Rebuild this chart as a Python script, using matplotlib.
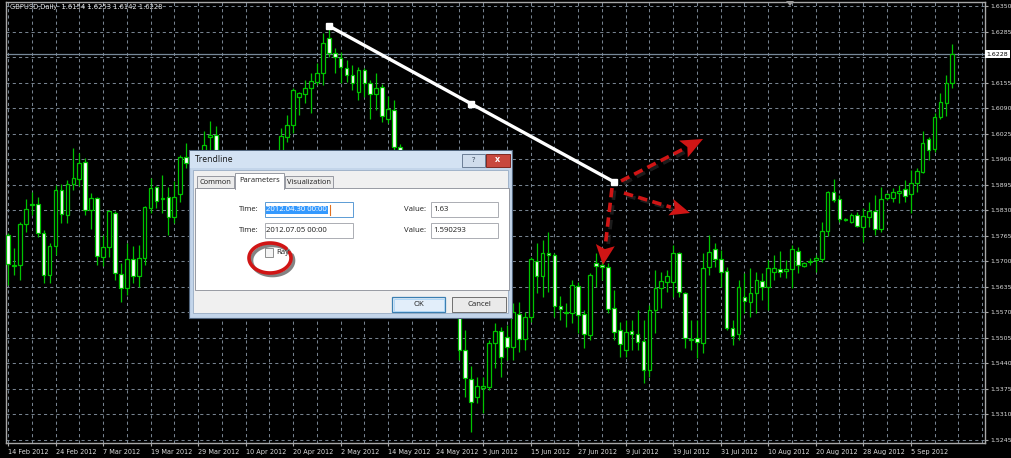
import matplotlib
matplotlib.use("Agg")
import matplotlib.pyplot as plt
from matplotlib.patches import Rectangle, Polygon
import matplotlib.patheffects as pe
import numpy as np

# ---------------------------------------------------------------- data
symbol = "GBPUSD,Daily"

date_labels = ["14 Feb 2012", "24 Feb 2012", "7 Mar 2012", "19 Mar 2012",
               "29 Mar 2012", "10 Apr 2012", "20 Apr 2012", "2 May 2012",
               "14 May 2012", "24 May 2012", "5 Jun 2012", "15 Jun 2012",
               "27 Jun 2012", "9 Jul 2012", "19 Jul 2012", "31 Jul 2012",
               "10 Aug 2012", "20 Aug 2012", "28 Aug 2012", "5 Sep 2012"]

opens = [1.5767, 1.5687, 1.5690, 1.5795, 1.5846, 1.5846, 1.5772, 1.5665, 1.5739, 1.5881,
         1.5818, 1.5897, 1.5909, 1.5953, 1.5830, 1.5861, 1.5710, 1.5736, 1.5823, 1.5667,
         1.5632, 1.5706, 1.5662, 1.5708, 1.5835, 1.5889, 1.5858, 1.5863, 1.5812, 1.5871,
         1.5965, 1.5950, 1.5900, 1.5950, 1.6018, 1.6021, 1.5950, 1.5840, 1.5850, 1.5865,
         1.5860, 1.5890, 1.5920, 1.5945, 1.5870, 1.5920, 1.5960, 1.6016, 1.6047, 1.6118,
         1.6126, 1.6141, 1.6156, 1.6179, 1.6268, 1.6230, 1.6217, 1.6192, 1.6174, 1.6131,
         1.6187, 1.6154, 1.6126, 1.6143, 1.6062, 1.6085, 1.5991, 1.5870, 1.5830, 1.5810,
         1.5825, 1.5760, 1.5710, 1.5660, 1.5680, 1.5690, 1.5650, 1.5474, 1.5400, 1.5354,
         1.5378, 1.5380, 1.5492, 1.5522, 1.5507, 1.5481, 1.5566, 1.5502, 1.5558, 1.5700,
         1.5662, 1.5721, 1.5716, 1.5586, 1.5568, 1.5568, 1.5637, 1.5566, 1.5512, 1.5695,
         1.5690, 1.5685, 1.5581, 1.5525, 1.5474, 1.5522, 1.5515, 1.5497, 1.5423, 1.5576,
         1.5632, 1.5647, 1.5647, 1.5721, 1.5619, 1.5500, 1.5504, 1.5492, 1.5685, 1.5731,
         1.5706, 1.5675, 1.5530, 1.5515, 1.5609, 1.5596, 1.5619, 1.5650, 1.5634, 1.5672,
         1.5680, 1.5675, 1.5680, 1.5726, 1.5688, 1.5698, 1.5703, 1.5706, 1.5777, 1.5876,
         1.5858, 1.5805, 1.5800, 1.5818, 1.5787, 1.5813, 1.5828, 1.5782, 1.5861, 1.5861,
         1.5874, 1.5884, 1.5871, 1.5899, 1.5927, 1.6011, 1.5986, 1.6067, 1.6103, 1.6154]

highs = [1.5772, 1.5734, 1.5800, 1.5858, 1.5876, 1.5863, 1.5779, 1.5746, 1.5894, 1.5897,
         1.5907, 1.5988, 1.5975, 1.5963, 1.5874, 1.5863, 1.5767, 1.5830, 1.5828, 1.5695,
         1.5746, 1.5739, 1.5741, 1.5841, 1.5912, 1.5891, 1.5920, 1.5889, 1.5904, 1.5970,
         1.6001, 1.5975, 1.5965, 1.6031, 1.6057, 1.6044, 1.5965, 1.5870, 1.5880, 1.5890,
         1.5915, 1.5940, 1.5960, 1.5955, 1.5940, 1.5975, 1.6039, 1.6072, 1.6141, 1.6131,
         1.6161, 1.6179, 1.6205, 1.6281, 1.6300, 1.6243, 1.6233, 1.6212, 1.6200, 1.6194,
         1.6192, 1.6161, 1.6179, 1.6151, 1.6121, 1.6110, 1.5998, 1.5900, 1.5890, 1.5850,
         1.5840, 1.5770, 1.5720, 1.5720, 1.5715, 1.5710, 1.5660, 1.5525, 1.5433, 1.5405,
         1.5405, 1.5499, 1.5543, 1.5532, 1.5537, 1.5594, 1.5596, 1.5571, 1.5711, 1.5746,
         1.5754, 1.5774, 1.5721, 1.5611, 1.5594, 1.5652, 1.5647, 1.5576, 1.5670, 1.5721,
         1.5711, 1.5695, 1.5627, 1.5545, 1.5550, 1.5550, 1.5576, 1.5550, 1.5589, 1.5678,
         1.5672, 1.5678, 1.5741, 1.5723, 1.5622, 1.5550, 1.5550, 1.5721, 1.5767, 1.5746,
         1.5728, 1.5685, 1.5550, 1.5652, 1.5670, 1.5683, 1.5672, 1.5670, 1.5703, 1.5716,
         1.5726, 1.5703, 1.5741, 1.5736, 1.5698, 1.5708, 1.5716, 1.5800, 1.5879, 1.5909,
         1.5869, 1.5810, 1.5823, 1.5825, 1.5835, 1.5851, 1.5869, 1.5889, 1.5874, 1.5886,
         1.5894, 1.5907, 1.5932, 1.5937, 1.6031, 1.6016, 1.6077, 1.6128, 1.6174, 1.6253]

lows = [1.5639, 1.5665, 1.5652, 1.5774, 1.5818, 1.5762, 1.5644, 1.5644, 1.5716, 1.5797,
        1.5797, 1.5881, 1.5891, 1.5818, 1.5782, 1.5690, 1.5688, 1.5711, 1.5652, 1.5596,
        1.5614, 1.5644, 1.5634, 1.5690, 1.5823, 1.5835, 1.5823, 1.5767, 1.5797, 1.5851,
        1.5937, 1.5880, 1.5870, 1.5935, 1.5975, 1.5930, 1.5810, 1.5800, 1.5830, 1.5825,
        1.5830, 1.5870, 1.5900, 1.5850, 1.5840, 1.5905, 1.5945, 1.6003, 1.6026, 1.6072,
        1.6103, 1.6077, 1.6149, 1.6149, 1.6220, 1.6179, 1.6154, 1.6156, 1.6136, 1.6110,
        1.6118, 1.6062, 1.6085, 1.6054, 1.6052, 1.5983, 1.5850, 1.5810, 1.5780, 1.5770,
        1.5740, 1.5690, 1.5630, 1.5640, 1.5660, 1.5620, 1.5449, 1.5354, 1.5265, 1.5339,
        1.5313, 1.5372, 1.5428, 1.5405, 1.5449, 1.5449, 1.5469, 1.5474, 1.5545, 1.5619,
        1.5609, 1.5622, 1.5558, 1.5550, 1.5532, 1.5543, 1.5517, 1.5479, 1.5499, 1.5634,
        1.5652, 1.5568, 1.5499, 1.5456, 1.5456, 1.5474, 1.5474, 1.5390, 1.5405, 1.5517,
        1.5581, 1.5622, 1.5609, 1.5609, 1.5479, 1.5474, 1.5454, 1.5466, 1.5665, 1.5685,
        1.5634, 1.5525, 1.5487, 1.5499, 1.5568, 1.5558, 1.5568, 1.5601, 1.5576, 1.5652,
        1.5660, 1.5657, 1.5632, 1.5670, 1.5685, 1.5690, 1.5672, 1.5698, 1.5764, 1.5851,
        1.5800, 1.5802, 1.5797, 1.5787, 1.5749, 1.5787, 1.5767, 1.5774, 1.5856, 1.5851,
        1.5848, 1.5851, 1.5823, 1.5876, 1.5925, 1.5958, 1.5978, 1.6062, 1.6070, 1.6142]

closes = [1.5693, 1.5690, 1.5795, 1.5833, 1.5844, 1.5772, 1.5665, 1.5739, 1.5881, 1.5820,
          1.5897, 1.5912, 1.5950, 1.5830, 1.5861, 1.5713, 1.5736, 1.5828, 1.5670, 1.5632,
          1.5706, 1.5662, 1.5708, 1.5838, 1.5886, 1.5853, 1.5862, 1.5812, 1.5863, 1.5965,
          1.5950, 1.5900, 1.5950, 1.5996, 1.6021, 1.5950, 1.5840, 1.5850, 1.5865, 1.5860,
          1.5890, 1.5920, 1.5945, 1.5870, 1.5920, 1.5960, 1.6019, 1.6047, 1.6136, 1.6128,
          1.6141, 1.6159, 1.6179, 1.6256, 1.6230, 1.6220, 1.6194, 1.6174, 1.6154, 1.6187,
          1.6154, 1.6126, 1.6141, 1.6070, 1.6087, 1.5991, 1.5870, 1.5830, 1.5810, 1.5825,
          1.5760, 1.5710, 1.5660, 1.5680, 1.5690, 1.5650, 1.5474, 1.5403, 1.5342, 1.5382,
          1.5382, 1.5492, 1.5522, 1.5456, 1.5481, 1.5571, 1.5502, 1.5558, 1.5706, 1.5662,
          1.5721, 1.5716, 1.5586, 1.5578, 1.5571, 1.5639, 1.5563, 1.5515, 1.5665, 1.5688,
          1.5685, 1.5578, 1.5520, 1.5489, 1.5520, 1.5515, 1.5494, 1.5423, 1.5576, 1.5632,
          1.5650, 1.5662, 1.5721, 1.5622, 1.5504, 1.5503, 1.5494, 1.5683, 1.5723, 1.5706,
          1.5672, 1.5530, 1.5510, 1.5634, 1.5599, 1.5619, 1.5652, 1.5634, 1.5683, 1.5683,
          1.5672, 1.5680, 1.5731, 1.5690, 1.5695, 1.5700, 1.5708, 1.5777, 1.5876, 1.5856,
          1.5807, 1.5808, 1.5818, 1.5790, 1.5815, 1.5828, 1.5782, 1.5858, 1.5871, 1.5876,
          1.5879, 1.5866, 1.5899, 1.5930, 1.6001, 1.5983, 1.6067, 1.6105, 1.6154, 1.6228]

# trend line anchors: bar index, time text and price of each end
trend_bars = [54, 102]
trend_times = ["2012.04.30 00:00", "2012.07.05 00:00"]
trend_values = [1.63, 1.590293]

price_base = 1.5245
price_step = 0.0065
price_levels = 18

# ---------------------------------------------------------------- style
W, H = 1011, 458
GREEN = "#00C400"
GRID = "#76828F"
FRAME = "#A8A8A8"
LABEL = "#DCDCDC"
RED = "#D01515"
AXFONT = ["DejaVu Sans"]
UIFONT = ["Open Sans", "DejaVu Sans"]

fig = plt.figure(figsize=(W / 100, H / 100), dpi=100, facecolor="black")
left, right, top, bottom = 6, 985, 2, 442.7
ax = fig.add_axes([left / W, (H - bottom) / H, (right - left) / W, (bottom - top) / H],
                  facecolor="black")

o = np.array(opens)
h = np.array(highs)
l = np.array(lows)
c = np.array(closes)
x = np.arange(len(o))

ax.set_xlim(-0.34, 164.5)
ax.set_ylim(1.52381, 1.63608)

# grid
levels = price_base + price_step * np.arange(price_levels)
for lv in levels:
    ax.axhline(lv, color=GRID, lw=0.75, dashes=(3, 3), zorder=0.5)
for gx in range(0, 165, 4):
    ax.axvline(gx, color=GRID, lw=0.75, dashes=(3, 3), zorder=0.5)

# bid line
bid = c[-1]
ax.axhline(bid, color="#778899", lw=0.9, zorder=0.8)

# candles
up = c >= o
body_lo = np.minimum(o, c)
body_h = np.abs(c - o)
ax.vlines(x, l, h, color=GREEN, lw=0.9, zorder=2)
ax.bar(x[up], body_h[up], bottom=body_lo[up], width=0.62, facecolor="black",
       edgecolor=GREEN, lw=0.9, zorder=3)
ax.bar(x[~up], body_h[~up], bottom=body_lo[~up], width=0.62, facecolor="white",
       edgecolor=GREEN, lw=0.9, zorder=3)

# trend line with its anchor handles
tx = np.array(trend_bars, float)
ty = np.array(trend_values, float)
ax.plot(tx, ty, color="white", lw=2.4, solid_capstyle="butt", zorder=6)
ax.plot(np.r_[tx, tx.mean()], np.r_[ty, ty.mean()], ls="none", marker="s",
        ms=4.6, color="white", zorder=7)

# axes frame, ticks and labels
for side in ["left", "right", "top", "bottom"]:
    ax.spines[side].set_color(FRAME)
    ax.spines[side].set_linewidth(1.0)
ax.yaxis.tick_right()
ax.set_yticks(levels)
# the level under the bid tag is hidden by it, so only the tag is printed there
ax.set_yticklabels(["" if abs(v - bid) < price_step / 4 else f"{v:.4f}" for v in levels])
ax.set_xticks(np.arange(0, 8 * len(date_labels), 8))
ax.set_xticklabels(date_labels)
ax.tick_params(axis="both", colors=FRAME, labelcolor=LABEL, labelsize=4.7,
               length=2.5, width=0.8)
ax.tick_params(axis="y", pad=1.2, labelsize=4.5)
ax.tick_params(axis="x", pad=2.2)
for t in ax.get_xticklabels():
    t.set_horizontalalignment("left")
    t.set_family(AXFONT)
for t in ax.get_yticklabels():
    t.set_family(AXFONT)

ax.annotate(f"{bid:.4f}", xy=(1, bid), xycoords=("axes fraction", "data"),
            xytext=(1.2, 0), textcoords="offset points", va="center", ha="left",
            fontsize=4.5, family=AXFONT, color="black", annotation_clip=False,
            bbox=dict(boxstyle="square,pad=0.2", fc="white", ec="none"), zorder=30)

ax.text(4 / (right - left), 1 - 5.5 / (bottom - top),
        f"{symbol}  {o[-1]:.4f} {h[-1]:.4f} {l[-1]:.4f} {c[-1]:.4f}",
        transform=ax.transAxes, fontsize=4.9, family=AXFONT, color="#E6E6E6",
        va="center", ha="left", zorder=8)

# ---------------------------------------------------------------- overlay (pixel space)
ov = fig.add_axes([0, 0, 1, 1], zorder=10)
ov.set_xlim(0, W)
ov.set_ylim(H, 0)
ov.axis("off")
ov.patch.set_visible(False)


def rect(x0, y0, x1, y1, fc, ec="none", lw=0.7, z=1):
    ov.add_patch(Rectangle((x0, y0), x1 - x0, y1 - y0, facecolor=fc, edgecolor=ec,
                           lw=lw, zorder=z))


def label(xp, yp, s, size=5.6, ha="left", color="#1E1E1E", z=5, **kw):
    ov.text(xp, yp, s, fontsize=size, ha=ha, va="center", color=color,
            family=UIFONT, zorder=z, **kw)


# chart shift marker
ov.add_patch(Polygon([(786, 1), (794, 1), (790, 6)], closed=True, fc="#9A9A9A",
                     ec="none", zorder=2))

# dialog window
rect(189, 150, 512, 318, "#C3D5EA", "#52667E", 0.8, 1)
rect(190, 151, 511, 168, "#D3E2F3", "none", 0, 1.1)
label(195, 160, "Trendline", size=6.2, color="#151515")
rect(462, 154, 485, 166.5, "#CFDCEC", "#6B7E96", 0.7, 2)
label(473.5, 160, "?", size=5.6, ha="center", color="#2B3A4E")
rect(486, 154, 510, 166.5, "#C8483E", "#7E2720", 0.7, 2)
label(498, 159.8, "x", size=6.4, ha="center", color="white", weight="bold")

rect(193, 170, 508, 313, "#F0F0F0", "#98ACC4", 0.6, 1.5)
rect(195, 188, 509, 290, "white", "#898C95", 0.6, 2)
rect(197, 176, 234, 188, "#EBEBEB", "#898C95", 0.6, 2)
label(215.5, 182.3, "Common", size=5.4, ha="center")
rect(285, 176, 333, 188, "#EBEBEB", "#898C95", 0.6, 2)
label(309, 182.3, "Visualization", size=5.4, ha="center")
rect(235, 173, 284, 188.6, "white", "#898C95", 0.6, 3)
rect(235.5, 187.3, 283.5, 189.6, "white", "none", 0, 3.1)
label(259.5, 180.8, "Parameters", size=5.4, ha="center")

# parameter fields
rows_y = [202, 223]
for k, ry in enumerate(rows_y):
    label(259, ry + 7.8, "Time:", ha="right")
    label(426, ry + 7.8, "Value:", ha="right")
    rect(265, ry, 353, ry + 15, "white", "#5B9BD5" if k == 0 else "#ABADB3", 0.7, 3)
    rect(431, ry, 498, ry + 15, "white", "#ABADB3", 0.7, 3)
    label(433, ry + 7.8, f"{trend_values[k]:g}" if k == 0 else f"{trend_values[k]:.6f}")
label(266.5, rows_y[0] + 7.8, trend_times[0], color="white",
      bbox=dict(boxstyle="square,pad=0.1", fc="#3399FF", ec="none"))
ov.plot([330, 330], [rows_y[0] + 3, rows_y[0] + 12.5], color="#E07020", lw=0.8, zorder=6)
label(266.5, rows_y[1] + 7.8, trend_times[1])

rect(265, 248, 273, 256.5, "#F4F4F4", "#8E8F8F", 0.7, 3)
label(276, 252.5, "Ray")

rect(392, 297, 445, 312, "#E2EEFA", "#3C7FB1", 0.9, 3)
rect(393.5, 298.5, 443.5, 310.5, "none", "#A9D3F5", 0.6, 3.1)
label(418.5, 304.5, "OK", ha="center")
rect(452, 297, 506, 312, "#EAEAEA", "#707070", 0.7, 3)
label(479, 304.5, "Cancel", ha="center")

# hand-drawn red annotations
shadow = [pe.SimpleLineShadow(offset=(1.8, -1.8), shadow_color="#303030", alpha=0.6),
          pe.Normal()]
ring_t = np.linspace(0.22 * np.pi, 2.12 * np.pi, 120)
ov.plot(270 + 21 * np.cos(ring_t), 258 - 15 * np.sin(ring_t), color=RED, lw=2.6,
        solid_capstyle="round", zorder=8, path_effects=shadow)


def dashed_arrow(start, tip, head_len, head_w):
    s = np.array(start, float)
    t = np.array(tip, float)
    d = (t - s) / np.linalg.norm(t - s)
    n = np.array([-d[1], d[0]])
    base = t - d * head_len
    ov.plot([s[0], base[0]], [s[1], base[1]], color=RED, lw=2.6, dashes=(2.6, 1.5),
            solid_capstyle="butt", dash_capstyle="butt", zorder=8, path_effects=shadow)
    ov.add_patch(Polygon([t, base + n * head_w / 2, t - d * head_len * 0.8,
                          base - n * head_w / 2], closed=True, fc=RED, ec="none",
                         zorder=8))


dashed_arrow((612, 188), (603, 265), 20, 19)
dashed_arrow((621, 181), (703, 139), 22, 19)
dashed_arrow((624, 193), (690, 213), 20, 17)

fig.savefig("out.png", dpi=100, facecolor="black")
